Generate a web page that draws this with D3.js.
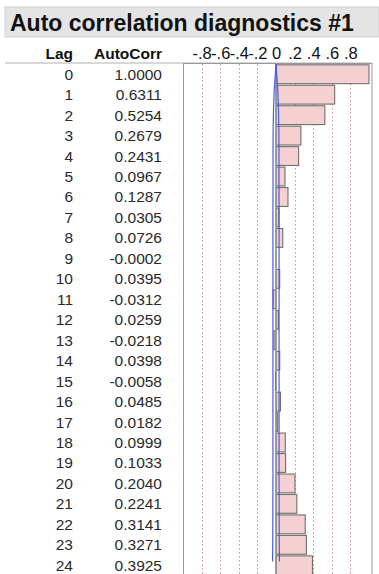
<!DOCTYPE html>
<html>
<head>
<meta charset="utf-8">
<script src="https://cdn.jsdelivr.net/npm/d3@7"></script>
<style>
  html, body { margin: 0; padding: 0; background: #fff; }
  svg { display: block; font-family: "Liberation Sans", Arial, Helvetica, sans-serif; }
</style>
</head>
<body>
<div id="chart"></div>
<script>
const title = "Auto correlation diagnostics #1";
const lags = [0,1,2,3,4,5,6,7,8,9,10,11,12,13,14,15,16,17,18,19,20,21,22,23,24];
const autoCorr = [1.0000,0.6311,0.5254,0.2679,0.2431,0.0967,0.1287,0.0305,0.0726,-0.0002,0.0395,-0.0312,0.0259,-0.0218,0.0398,-0.0058,0.0485,0.0182,0.0999,0.1033,0.2040,0.2241,0.3141,0.3271,0.3925];
const autoCorrLabels = ["1.0000","0.6311","0.5254","0.2679","0.2431","0.0967","0.1287","0.0305","0.0726","-0.0002","0.0395","-0.0312","0.0259","-0.0218","0.0398","-0.0058","0.0485","0.0182","0.0999","0.1033","0.2040","0.2241","0.3141","0.3271","0.3925"];
// estimated +/- 2 SE confidence limit
const limit = [0,0.020,0.027,0.031,0.032,0.032,0.032,0.033,0.033,0.033,0.033,0.033,0.033,0.033,0.033,0.033,0.033,0.033,0.033,0.033,0.033,0.034,0.034,0.035,0.037];
const tickValues = [-0.8,-0.6,-0.4,-0.2,0,0.2,0.4,0.6,0.8];
const tickLabels = ["-.8","-.6","-.4","-.2","0",".2",".4",".6",".8"];

const W = 379, H = 574;
const svg = d3.select("#chart").append("svg").attr("width", W).attr("height", H);

// title bar
svg.append("rect").attr("x", 5).attr("y", 7).attr("width", W - 5).attr("height", 30)
  .attr("fill", "#e4e4e4").attr("stroke", "#d0d0d0");
svg.append("text").attr("x", 10).attr("y", 31).text(title)
  .attr("font-size", 23).attr("font-weight", "bold").attr("fill", "#111");

const topY = 63;
const x = d3.scaleLinear().domain([-1, 1]).range([183, 369]);
const y = d3.scaleBand().domain(lags).range([topY + 1, topY + 1 + 25 * 20.46]).paddingInner(0.08).paddingOuter(0.04);

// headers
svg.append("text").attr("x", 73).attr("y", 59).attr("text-anchor", "end")
  .attr("font-size", 15.5).attr("font-weight", "bold").attr("fill", "#111").text("Lag");
svg.append("text").attr("x", 162).attr("y", 59).attr("text-anchor", "end")
  .attr("font-size", 15.5).attr("font-weight", "bold").attr("fill", "#111").text("AutoCorr");

// axis labels
const axis = d3.axisTop(x).tickValues(tickValues).tickSize(0).tickPadding(0)
  .tickFormat((d, i) => tickLabels[i]);
const ag = svg.append("g").attr("transform", `translate(0,${59})`).call(axis);
ag.select(".domain").remove();
ag.selectAll("text").attr("font-size", 16.5).attr("fill", "#111")
  .attr("font-family", "'Liberation Sans', Arial, sans-serif").attr("dy", 0);

// header line
svg.append("line").attr("x1", 5).attr("x2", 372).attr("y1", topY).attr("y2", topY)
  .attr("stroke", "#b0b0b0").attr("stroke-width", 1);

// plot box
svg.append("rect").attr("x", 183.5).attr("y", topY + 0.5).attr("width", 372 - 183.5).attr("height", H)
  .attr("fill", "none").attr("stroke", "#999").attr("stroke-width", 1);

// dotted grid
svg.append("g").selectAll("line").data(tickValues.filter(d => d !== 0)).join("line")
  .attr("x1", d => Math.round(x(d)) + 0.5).attr("x2", d => Math.round(x(d)) + 0.5)
  .attr("y1", topY + 1).attr("y2", H)
  .attr("stroke", "#d88a99").attr("stroke-width", 1).attr("stroke-dasharray", "1.5,2.5");

// bars
svg.append("g").selectAll("rect").data(lags).join("rect")
  .attr("x", (d, i) => x(Math.min(0, autoCorr[i])))
  .attr("y", d => y(d))
  .attr("width", (d, i) => Math.abs(x(autoCorr[i]) - x(0)))
  .attr("height", y.bandwidth())
  .attr("fill", "#f5d0d0").attr("stroke", "#6f6f6f").attr("stroke-width", 1.1);

// zero line
svg.append("line").attr("x1", x(0)).attr("x2", x(0)).attr("y1", topY + 1).attr("y2", H)
  .attr("stroke", "#8a8a8a").attr("stroke-width", 1);

// confidence curves
const line = d3.line().x(d => d[0]).y(d => d[1]);
[1, -1].forEach(s => {
  svg.append("path")
    .attr("d", line(lags.map((d, i) => [x(s * limit[i]), y(d) + (i === 0 ? -y.step() * 0.04 : y.bandwidth() * 0.3)])))
    .attr("fill", "none").attr("stroke", "#4a5de0").attr("stroke-width", 1.2);
});

// table rows
const rows = svg.append("g").attr("font-size", 15.5).attr("fill", "#2a2a2a");
rows.selectAll("text.lag").data(lags).join("text").attr("class", "lag")
  .attr("x", 73).attr("y", d => y(d) + y.bandwidth() / 2 + 5.5).attr("text-anchor", "end").text(d => d);
rows.selectAll("text.ac").data(lags).join("text").attr("class", "ac")
  .attr("x", 162).attr("y", d => y(d) + y.bandwidth() / 2 + 5.5).attr("text-anchor", "end")
  .text((d, i) => autoCorrLabels[i]);
</script>
</body>
</html>
